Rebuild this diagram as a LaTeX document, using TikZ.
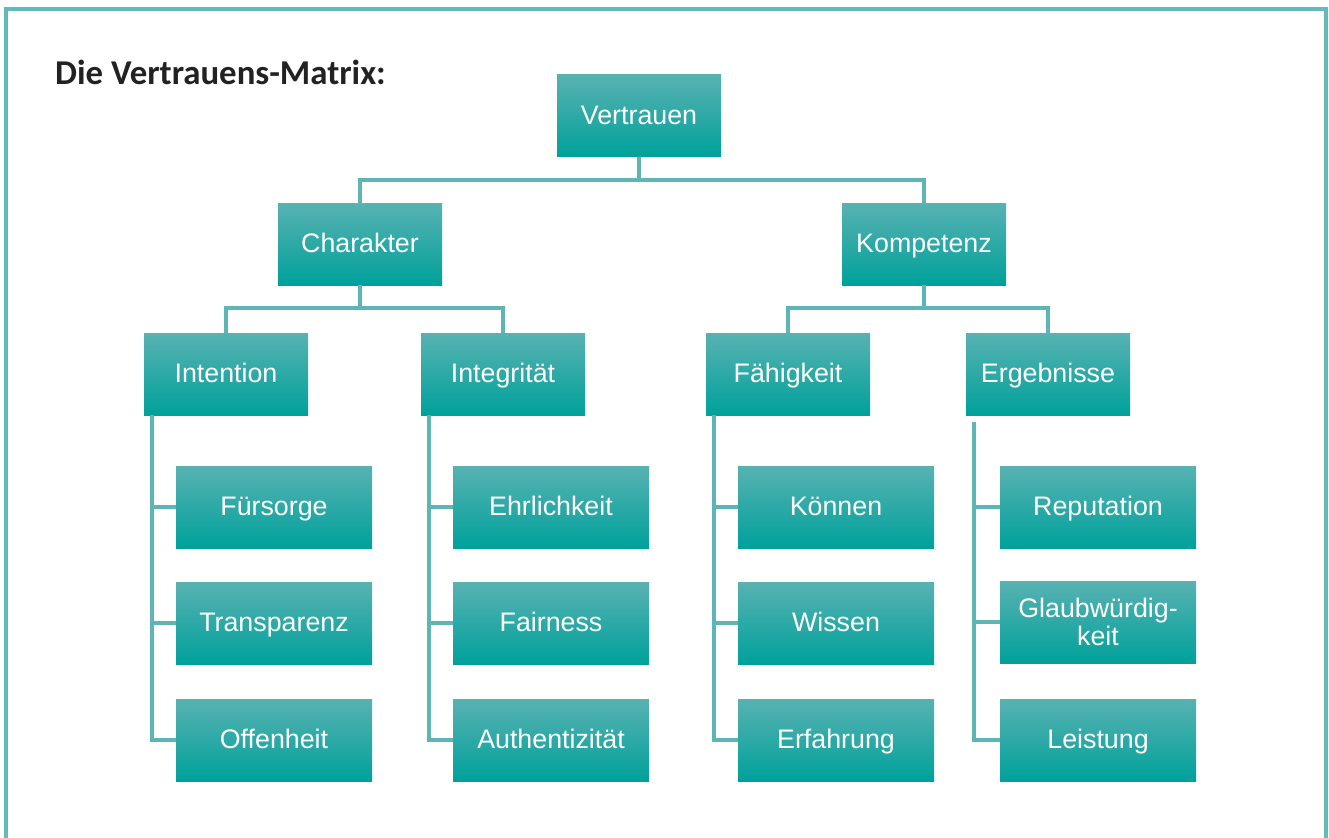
\documentclass[tikz,border=0pt]{standalone}
\usepackage{fontspec}
\setmainfont{Liberation Sans}
\newfontfamily\titlefont{Carlito}
\usepackage{tikz}
\usetikzlibrary{calc}
\definecolor{framecol}{HTML}{62BABA}
\definecolor{linecol}{HTML}{5DB5B5}
\definecolor{boxtop}{HTML}{58B2B2}
\definecolor{boxbot}{HTML}{00A19B}
\definecolor{titlecol}{HTML}{222222}
\tikzset{
	boxbase/.style={rectangle, minimum width=164, minimum height=82, inner sep=0pt,
		top color=boxtop, bottom color=boxbot, draw=none, text=white,
		font=\fontsize{26.8}{30}\selectfont, align=center},
	box/.style={boxbase, text height=19pt, text depth=2pt},
	leaf/.style={box, minimum width=196},
	leafmulti/.style={boxbase, minimum width=196},
	conn/.style={line width=4, color=linecol}
}

\begin{document}
\begin{tikzpicture}[x=1pt, y=-1pt]
		%%%%% START %%%%%
		
		\useasboundingbox (0, 0) rectangle (1329, 837);
		\begin{scope}
		\clip (0, 0) rectangle (1329, 837);
		\draw[line width=4, color=framecol] (6, 9) rectangle (1326, 860);
		\end{scope}
		
		\node[anchor=base west, inner sep=0pt, text=titlecol, font=\titlefont\bfseries\fontsize{34.8}{38}\selectfont] (titel) at (55, 85) {Die Vertrauens-Matrix:};
		
		\node[box] (vertrauen) at (639, 116) {Vertrauen};
		\node[box] (charakter) at (360, 244) {Charakter};
		\node[box] (kompetenz) at (924, 244) {Kompetenz};
		
		\node[box] (intention) at (226, 374) {Intention};
		\node[box] (integritaet) at (503, 374) {Integrität};
		\node[box] (faehigkeit) at (788, 374) {Fähigkeit};
		\node[box] (ergebnisse) at (1048, 374) {Ergebnisse};
		
		\node[leaf] (fuersorge) at (274, 507) {Fürsorge};
		\node[leaf] (transparenz) at (274, 623) {Transparenz};
		\node[leaf] (offenheit) at (274, 740) {Offenheit};
		
		\node[leaf] (ehrlichkeit) at (551, 507) {Ehrlichkeit};
		\node[leaf] (fairness) at (551, 623) {Fairness};
		\node[leaf] (authentizitaet) at (551, 740) {Authentizität};
		
		\node[leaf] (koennen) at (836, 507) {Können};
		\node[leaf] (wissen) at (836, 623) {Wissen};
		\node[leaf] (erfahrung) at (836, 740) {Erfahrung};
		
		\node[leaf] (reputation) at (1098, 507) {Reputation};
		\node[leafmulti] (glaubwuerdigkeit) at (1098, 622) {Glaubwürdig-\\[-2pt]keit};
		\node[leaf] (leistung) at (1098, 740) {Leistung};
		
		% obere Ebenen
		\draw[conn] (vertrauen.south) -- ++(0, 23) -| (charakter.north);
		\draw[conn] (vertrauen.south) -- ++(0, 23) -| (kompetenz.north);
		\draw[conn] (charakter.south) -- ++(0, 23) -| (intention.north);
		\draw[conn] (charakter.south) -- ++(0, 23) -| (integritaet.north);
		\draw[conn] (kompetenz.south) -- ++(0, 23) -| (faehigkeit.north);
		\draw[conn] (kompetenz.south) -- ++(0, 23) -| (ergebnisse.north);
		
		% Blaetter
		\foreach \eltern/\a/\b/\c/\dy in {intention/fuersorge/transparenz/offenheit/0,
			integritaet/ehrlichkeit/fairness/authentizitaet/0,
			faehigkeit/koennen/wissen/erfahrung/0,
			ergebnisse/reputation/glaubwuerdigkeit/leistung/7}{
			\draw[conn] ($(\eltern.south west)+(8, \dy)$) |- (\c.west);
			\draw[conn] ($(\eltern.south west)+(8, \dy)$) |- (\a.west);
			\draw[conn] ($(\eltern.south west)+(8, \dy)$) |- (\b.west);
		}
		
		%%%%% END %%%%%
	\end{tikzpicture}
\end{document}
